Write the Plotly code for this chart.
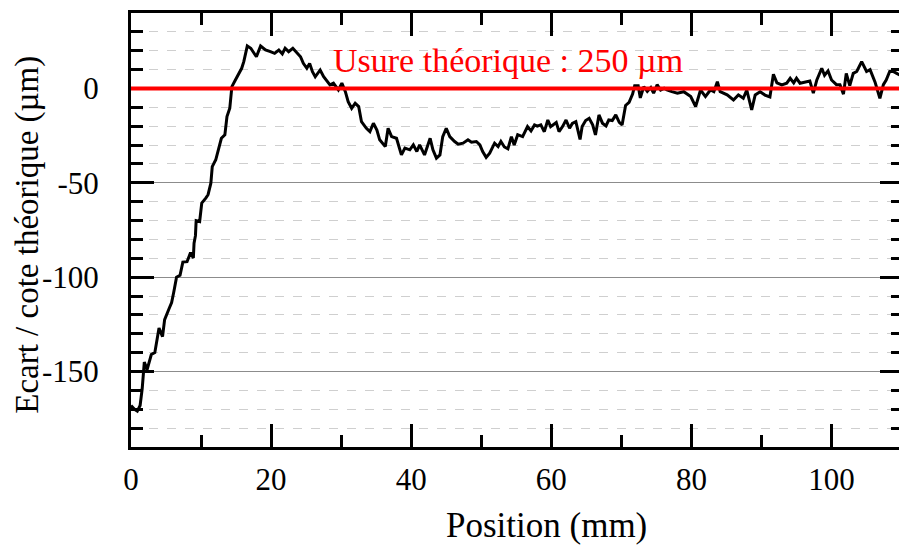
import plotly.graph_objects as go

# Position (mm) and deviation from theoretical dimension (µm)
position_mm = [
    0.0, 0.5, 0.9, 1.3, 1.6, 1.9, 2.3, 2.9, 3.4, 4.0, 4.5, 4.8, 5.4, 5.8, 6.1, 6.5, 7.0, 7.4, 8.0, 8.5,
    8.9, 9.0, 9.2, 9.3, 9.8, 10.1, 10.7, 11.0, 11.4, 11.6, 12.1, 12.6, 12.9, 13.4, 13.7, 14.1, 14.4, 14.9, 15.4, 15.8,
    16.1, 16.6, 17.1, 17.9, 18.5, 19.2, 19.9, 20.5, 21.1, 21.6, 22.0, 22.5, 23.1, 23.7, 24.2, 24.6, 25.1, 25.5, 25.9, 26.3,
    27.0, 27.5, 28.0, 28.4, 28.9, 29.6, 30.1, 30.6, 31.0, 31.5, 32.0, 32.5, 32.9, 33.6, 34.1, 34.6, 35.1, 35.5, 36.3, 36.7,
    37.2, 37.9, 38.6, 39.1, 39.8, 40.3, 40.8, 41.2, 41.9, 42.7, 43.1, 43.6, 44.1, 44.5, 45.0, 45.5, 46.2, 46.7, 47.4, 48.1,
    48.6, 49.3, 49.8, 50.2, 50.7, 51.2, 51.9, 52.4, 52.8, 53.3, 53.8, 54.3, 54.7, 55.2, 55.9, 56.6, 57.1, 57.6, 58.0, 58.5,
    59.0, 59.5, 59.9, 60.7, 61.1, 61.6, 62.1, 62.6, 63.0, 63.5, 64.1, 64.4, 64.9, 65.4, 65.9, 66.3, 66.8, 67.3, 67.8, 68.2,
    68.7, 69.2, 69.7, 70.1, 70.6, 71.1, 71.6, 71.9, 72.4, 72.7, 73.2, 73.7, 74.2, 74.6, 75.1, 75.6, 76.1, 76.5, 77.2, 78.0,
    78.9, 79.9, 80.6, 81.3, 82.0, 82.7, 83.2, 83.7, 84.1, 85.1, 86.0, 86.7, 87.4, 87.9, 88.6, 89.1, 89.8, 90.5, 91.2, 91.7,
    92.2, 92.9, 93.6, 94.1, 94.6, 95.0, 95.5, 96.2, 96.9, 97.4, 97.9, 98.6, 99.0, 99.5, 100.0, 100.7, 101.2, 101.7, 102.1, 102.6,
    103.1, 103.6, 104.3, 105.0, 105.5, 106.2, 106.9, 107.4, 107.8, 108.3, 108.8, 109.3, 109.8, 110.2,
]
ecart_um = [
    -168, -170, -171, -168, -159, -145, -149, -141, -140, -127, -131.5, -122.5, -117, -113.5, -108, -100, -99, -92, -91.8, -87,
    -89.8, -82, -78, -70, -70.5, -60.7, -58, -56.3, -50.2, -41.4, -37.8, -30, -26.4, -24.6, -14.9, -10.5, 1, 4.5, 8, 10.7,
    14.2, 22.5, 21.3, 16.8, 22.5, 20.4, 19.5, 18.6, 20.4, 18.3, 21.3, 19.5, 21.3, 18.6, 16.8, 13.3, 10.7, 13.3, 8.9, 6.2,
    9.8, 6.2, 3.6, 1.9, 2.8, -0.8, 2.8, -1.7, -7, -10.5, -7.8, -9.6, -17.6, -21.1, -22.9, -18.4, -22, -27.2, -30.8, -21.1,
    -25.5, -26.4, -35.2, -31.6, -32.5, -29.9, -33.4, -29.9, -35.2, -26.4, -32.5, -36.9, -35.2, -25.5, -21.1, -25.5, -28.1, -29.5, -29, -27.2,
    -28.5, -28.1, -29.9, -33.4, -36.5, -34.3, -29, -30.8, -28.1, -31, -32, -25.5, -30, -24.5, -25.5, -20.2, -22.5, -19.3, -20, -19.3,
    -22.9, -16.7, -20.2, -18, -22.9, -20.2, -16.7, -21.1, -18.5, -17.6, -27, -20.2, -17, -15.8, -19.3, -24.6, -14, -18.4, -19.8, -16.7,
    -17, -14, -18, -19.3, -9, -7.4, -3, 1.5, 1.5, -5, 1, -1.5, 0.5, -2.5, 2, -0.8, 0.1, -0.8, -1.7, -2.5,
    -1.7, -4.3, -9.6, -0.8, -4.3, -0.8, -1.7, 3.6, -1.7, -3.4, -6.1, -3.4, -5.2, -0.8, -11.4, -3.4, -1.7, -3.5, -4.5, 7.5,
    3, 1.9, 2.8, 5.4, 3, 5.4, 2.8, 3.6, 4, -2.5, 4.5, 10.7, 7, 9.3, 4.5, 2, 2, -3, 8, 1.5,
    8, 9, 14.2, 9, 10, 3.5, -5.2, 2, 4.5, 9, 9, 8, 7, 9,
]

usure_level = 0  # theoretical wear reference line
usure_label = "Usure théorique : 250 µm"
x_title = "Position (mm)"
y_title = "Ecart / cote théorique (µm)"

x_tickvals = [0, 20, 40, 60, 80, 100]
x_ticktext = ["0", "20", "40", "60", "80", "100"]
y_tickvals = [-150, -100, -50, 0]
y_ticktext = ["-150", "-100", "-50", "0"]

FONT = "Liberation Serif"

fig = go.Figure()
fig.add_trace(go.Scatter(
    x=position_mm, y=ecart_um, mode="lines",
    line=dict(color="black", width=3), showlegend=False, hoverinfo="skip",
))
fig.add_shape(
    type="line", xref="paper", x0=0, x1=1, yref="y", y0=usure_level, y1=usure_level,
    line=dict(color="#ff0000", width=4), layer="above",
)
fig.add_annotation(
    x=53.8, y=15, xref="x", yref="y", text=usure_label, showarrow=False,
    font=dict(family=FONT, size=34, color="#ff0000"), xanchor="center", yanchor="middle",
)
fig.add_annotation(
    x=0.538, y=-0.182, xref="paper", yref="paper", text=x_title, showarrow=False,
    font=dict(family=FONT, size=35, color="black"), xanchor="center", yanchor="middle",
)
fig.add_annotation(
    x=-0.134, y=0.488, xref="paper", yref="paper", text=y_title, showarrow=False,
    textangle=-90, font=dict(family=FONT, size=33, color="black"),
    xanchor="center", yanchor="middle",
)

fig.update_layout(
    width=906, height=545, autosize=False,
    margin=dict(l=131, r=0, t=13, b=98),
    paper_bgcolor="white", plot_bgcolor="white",
    font=dict(family=FONT, size=31, color="black"),
    hovermode=False,
)
fig.update_xaxes(
    range=[0, 110.2], tickmode="array", tickvals=x_tickvals, ticktext=x_ticktext,
    ticks="inside", ticklen=23, tickwidth=2.5, tickcolor="black",
    showline=True, linewidth=3, linecolor="black", mirror="ticks",
    showgrid=False, zeroline=False,
    minor=dict(tickmode="linear", tick0=0, dtick=10, ticks="inside", ticklen=12,
               tickwidth=2.5, tickcolor="black", showgrid=False),
    tickfont=dict(family=FONT, size=31), ticklabelstandoff=3,
)
fig.update_yaxes(
    range=[-190, 40], tickmode="array", tickvals=y_tickvals, ticktext=y_ticktext,
    ticks="inside", ticklen=23, tickwidth=2.5, tickcolor="black",
    showline=True, linewidth=3, linecolor="black", mirror="ticks",
    showgrid=True, gridcolor="#8c8c8c", gridwidth=1.2, zeroline=False,
    minor=dict(tickmode="linear", tick0=0, dtick=10, ticks="inside", ticklen=12,
               tickwidth=2.5, tickcolor="black", showgrid=True,
               gridcolor="#cfcfcf", gridwidth=1, griddash="dash"),
    tickfont=dict(family=FONT, size=31), ticklabelstandoff=23,
)

fig.write_html(
    "out.html",
    config={"responsive": False, "displayModeBar": False},
    post_script=(
        "document.body.style.margin='0';"
        "document.body.style.overflow='hidden';"
        "document.documentElement.style.overflow='hidden';"
    ),
)
